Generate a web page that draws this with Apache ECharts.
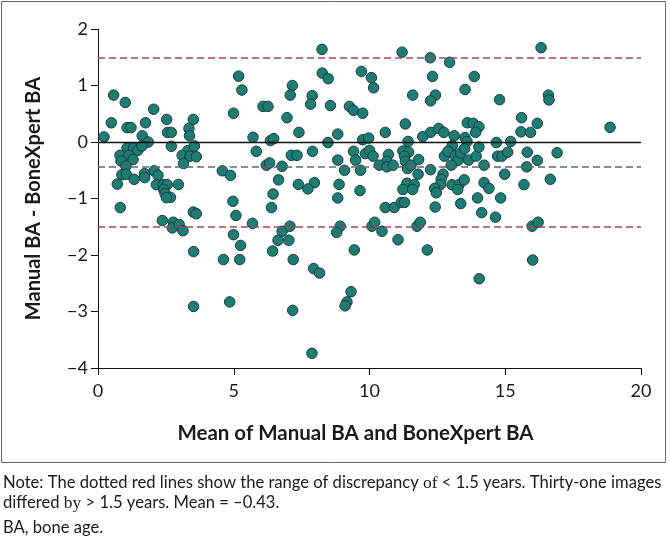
<!DOCTYPE html>
<html>
<head>
<meta charset="utf-8">
<script src="https://cdn.jsdelivr.net/npm/echarts@6/dist/echarts.min.js"></script>
<style>
html,body{margin:0;padding:0;background:#fff;}
#chart{width:670px;height:538px;}
</style>
</head>
<body>
<div id="chart"></div>
<script>
// Mean of Manual BA and BoneXpert BA (x) and difference Manual - BoneXpert (y)
var meanBA = [
 0.575,1.005,2.05,0.49,1.07,1.215,1.75,2.53,2.56,2.70,3.35,3.51,1.63,0.22,3.37,1.85,2.70,1.07,1.31,1.47,1.62,0.81,1.14,0.85,1.29,1.03,3.31,3.10,3.39,3.55,3.62,3.15,0.88,1.04,0.71,1.33,1.71,1.72,2.07,2.21,2.15,2.41,2.55,2.42,2.47,2.67,2.52,2.96,4.58,4.88,
 0.82,2.37,2.77,2.74,2.99,3.13,3.51,3.62,3.52,3.52,4.62,4.85,
 8.25,5.18,5.30,8.26,8.48,7.16,7.08,7.89,7.83,8.56,9.70,10.07,4.99,6.08,6.26,6.96,9.26,9.41,9.75,5.71,6.35,6.47,7.40,8.47,8.83,9.75,9.97,5.83,7.12,7.33,7.90,9.41,9.85,10.0,6.20,6.32,6.78,8.83,9.49,9.08,9.67,6.65,7.38,7.97,7.73,8.88,9.65,6.45,8.83,
 4.97,5.08,6.39,5.69,4.99,5.25,5.22,6.78,7.07,6.63,7.03,6.43,7.19,7.94,8.16,8.92,8.79,9.44,9.32,9.17,9.10,7.17,7.88,
 11.20,12.24,12.95,10.15,12.32,13.86,11.59,12.43,12.25,13.52,14.79,11.32,13.60,13.82,14.03,10.58,12.25,12.55,12.74,11.96,13.12,13.91,13.52,13.59,11.42,14.67,15.20,13.05,10.13,11.23,11.44,11.29,11.32,10.70,10.64,10.36,10.64,10.87,11.40,11.53,11.81,11.79,12.25,12.76,12.89,13.16,13.25,13.01,13.36,13.50,13.65,13.93,14.03,14.22,14.72,14.88,15.09,14.98,11.38,11.23,11.65,11.59,12.71,12.64,12.61,12.40,12.46,13.04,13.30,13.25,13.49,14.22,14.40,
 13.98,14.83,10.58,10.91,11.17,11.29,12.42,13.36,14.13,14.64,10.09,10.19,10.46,11.05,11.75,11.87,12.13,14.04,
 16.32,16.59,16.61,15.60,16.18,15.58,15.93,18.86,15.81,16.91,16.18,15.79,15.69,16.66,
 15.99,16.21,16.01
];
var diffBA = [
 0.83,0.70,0.58,0.34,0.255,0.255,0.34,0.40,0.17,0.17,0.24,0.40,0.11,0.09,0.11,0.0,-0.076,-0.106,-0.106,-0.147,-0.07,-0.236,-0.236,-0.337,-0.31,-0.425,-0.15,-0.236,-0.25,-0.07,-0.26,-0.38,-0.58,-0.57,-0.745,-0.66,-0.56,-0.63,-0.51,-0.59,-0.755,-0.755,-0.755,-0.84,-0.915,-0.98,-0.985,-0.75,-0.51,-0.59,
 -1.16,-1.39,-1.42,-1.52,-1.46,-1.57,-1.24,-1.27,-1.94,-2.91,-2.08,-2.83,
 1.64,1.165,0.92,1.22,1.12,1.0,0.83,0.82,0.67,0.645,1.25,1.14,0.51,0.63,0.63,0.43,0.63,0.56,0.51,0.083,0.025,0.06,0.17,-0.01,0.14,0.04,0.07,-0.165,-0.236,-0.236,-0.165,-0.165,-0.206,-0.147,-0.41,-0.37,-0.43,-0.32,-0.32,-0.50,-0.50,-0.67,-0.75,-0.72,-0.83,-0.75,-0.86,-0.92,-0.99,
 -1.05,-1.30,-1.16,-1.44,-1.64,-1.83,-2.08,-1.58,-1.49,-1.74,-1.74,-1.93,-2.08,-2.24,-2.32,-1.49,-1.60,-1.91,-2.65,-2.83,-2.90,-2.98,-3.74,
 1.59,1.49,1.41,0.96,1.16,1.16,0.83,0.83,0.73,0.93,0.75,0.32,0.34,0.33,0.27,0.17,0.17,0.24,0.17,0.095,0.11,0.17,0.078,0.01,0.01,-0.01,0.01,-0.06,-0.25,-0.16,-0.18,-0.25,-0.34,-0.22,-0.34,-0.41,-0.44,-0.41,-0.47,-0.41,-0.31,-0.57,-0.49,-0.25,-0.165,-0.24,-0.33,-0.41,-0.195,-0.12,-0.32,-0.25,-0.09,-0.41,-0.25,-0.25,-0.18,-0.57,-0.73,-0.84,-0.755,-0.84,-0.57,-0.66,-0.755,-0.82,-0.90,-0.755,-0.755,-0.84,-0.67,-0.72,-0.82,
 -0.99,-0.99,-1.16,-1.16,-1.07,-1.07,-1.15,-1.09,-1.25,-1.33,-1.49,-1.42,-1.58,-1.73,-1.49,-1.42,-1.91,-2.42,
 1.67,0.83,0.745,0.43,0.33,0.18,0.17,0.26,-0.18,-0.19,-0.325,-0.44,-0.755,-0.66,
 -1.49,-1.42,-2.09
];
var zeroLine = 0;
var meanDiff = -0.43;
var limits = [1.5, -1.5];
var xTicks = {min: 0, max: 20, step: 5};
var yTicks = {min: -4, max: 2, step: 1};

var points = meanBA.map(function (m, i) { return [m, diffBA[i]]; });

var FONT = 'Lato';
var chart = echarts.init(document.getElementById('chart'), null, {renderer: 'canvas'});
var redDash = {color: '#a3455e', width: 1.5, type: [7, 4]};
chart.setOption({
  animation: false,
  backgroundColor: '#fff',
  grid: {left: 98, right: 29, top: 29, bottom: 170},
  xAxis: {
    type: 'value', min: xTicks.min, max: xTicks.max, interval: xTicks.step,
    name: 'Mean of Manual BA and BoneXpert BA', nameLocation: 'middle', nameGap: 55,
    nameTextStyle: {fontFamily: FONT, fontWeight: 'bold', fontSize: 20.5, color: '#1a1a1a', padding: [0, 28, 0, 0]},
    axisLine: {onZero: false, lineStyle: {color: '#111', width: 1}},
    axisTick: {show: true, length: 7, lineStyle: {color: '#111'}},
    axisLabel: {fontFamily: FONT, fontSize: 18, color: '#1a1a1a', margin: 14},
    splitLine: {show: false}
  },
  yAxis: {
    type: 'value', min: yTicks.min, max: yTicks.max, interval: yTicks.step,
    name: 'Manual BA - BoneXpert BA', nameLocation: 'middle', nameGap: 54, nameRotate: 90,
    nameTextStyle: {fontFamily: FONT, fontWeight: 'bold', fontSize: 20, color: '#1a1a1a'},
    axisLine: {onZero: false, lineStyle: {color: '#111', width: 1}},
    axisTick: {show: true, length: 7, lineStyle: {color: '#111'}},
    axisLabel: {fontFamily: FONT, fontSize: 18, color: '#1a1a1a', margin: 10,
      formatter: function (v) { return String(v).replace('-', '\u2212'); }},
    splitLine: {show: false}
  },
  series: [
    {
      type: 'scatter', data: [], z: 1, silent: true,
      markLine: {
        silent: true, symbol: ['none', 'none'], label: {show: false}, animation: false,
        data: [
          {yAxis: zeroLine, lineStyle: {color: '#111', width: 1.3, type: 'solid'}},
          {yAxis: meanDiff, lineStyle: {color: '#5b6670', width: 1.5, type: [7, 4]}},
          {yAxis: limits[0], lineStyle: redDash},
          {yAxis: limits[1], lineStyle: redDash}
        ]
      }
    },
    {
      type: 'scatter', data: points, z: 3, symbol: 'circle', symbolSize: 10.5,
      itemStyle: {color: '#1f7c74', borderColor: '#173f3b', borderWidth: 1, opacity: 1}
    }
  ],
  graphic: [
    {type: 'rect', silent: true, shape: {x: 1.5, y: 1.5, width: 664, height: 461},
      style: {fill: 'none', stroke: '#666', lineWidth: 1}},
    {type: 'text', silent: true, x: 3, y: 483, style: {
      text: 'Note: The dotted red lines show the range of discrepancy {s|of} < 1.5 years. Thirty-one images',
      font: '16.6px Lato', fill: '#1a1a1a', verticalAlign: 'middle',
      rich: {s: {fontFamily: 'Liberation Serif', fontSize: 17.5, fill: '#1a1a1a'}}}},
    {type: 'text', silent: true, x: 3, y: 503, style: {
      text: 'differed {s|by} > 1.5 years. Mean = \u20130.43.',
      font: '16.6px Lato', fill: '#1a1a1a', verticalAlign: 'middle',
      rich: {s: {fontFamily: 'Liberation Serif', fontSize: 17.5, fill: '#1a1a1a'}}}},
    {type: 'text', silent: true, x: 3, y: 528, style: {
      text: 'BA, bone age.', font: '16.6px Lato', fill: '#1a1a1a', verticalAlign: 'middle'}}
  ]
});
</script>
</body>
</html>
